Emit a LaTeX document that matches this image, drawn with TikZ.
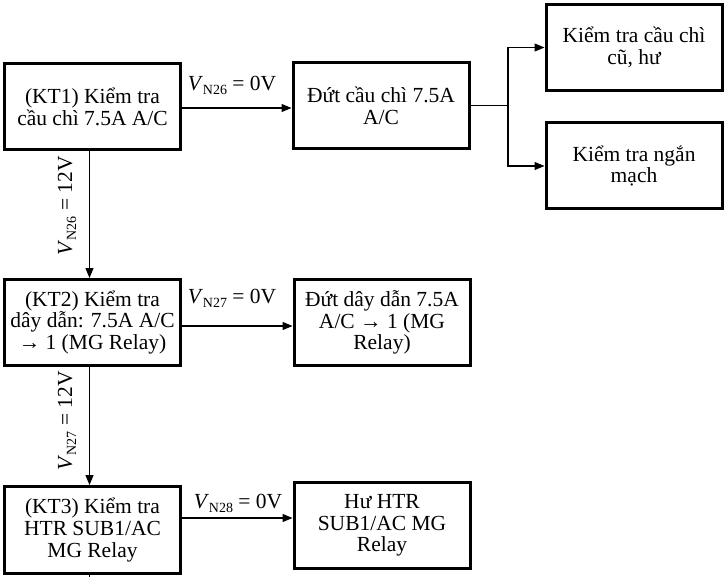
\documentclass[tikz,border=0pt]{standalone}
\usepackage{fontspec}
\setmainfont{Liberation Serif}
\usetikzlibrary{arrows.meta,calc}
\newcommand{\vsub}[1]{\textit{V}\raisebox{-4pt}{\fontsize{14}{14}\selectfont #1}}
\begin{document}
\begin{tikzpicture}[x=1pt,y=-1pt,
  box/.style={draw, line width=3pt, minimum width=176pt, minimum height=86pt, align=center, inner sep=2pt,
    font=\fontsize{21.5}{21.7}\selectfont},
  arr/.style={line width=1.1pt, -{Triangle[length=10pt,width=8pt]}},
  ln/.style={line width=1.1pt},
  lab/.style={font=\fontsize{21.5}{21.7}\selectfont, inner sep=0pt}]
\useasboundingbox (0,0) rectangle (727,577);
% boxes
\node[box] (kt1) at (92.5,107) {(KT1) Kiểm tra\\cầu chì 7.5A A/C};
\node[box] (d1) at (381,105.5) {Đứt cầu chì 7.5A\\A/C};
\node[box] (r1) at (634,47.5) {Kiểm tra cầu chì\\cũ, hư};
\node[box] (r2) at (634,166) {Kiểm tra ngắn\\mạch};
\node[box] (kt2) at (92.5,322.5) {(KT2) Kiểm tra\\dây dẫn: 7.5A A/C\\→ 1 (MG Relay)};
\node[box] (d2) at (382,322.5) {Đứt dây dẫn 7.5A\\A/C → 1 (MG\\Relay)};
\node[box, minimum height=87pt] (kt3) at (92.5,530) {(KT3) Kiểm tra\\HTR SUB1/AC\\MG Relay};
\node[box] (d3) at (382,525.5) {Hư HTR\\SUB1/AC MG\\Relay};
% horizontal connectors
\draw[arr] (kt1.east |- 0,108) -- (d1.west |- 0,108);
\draw[arr] (kt2.east |- 0,326) -- (d2.west |- 0,326);
\draw[arr] (kt3.east |- 0,518) -- (d3.west |- 0,518);
% branch
\coordinate (br) at (508,105.5);
\draw[ln] (d1.east) -- (br);
\draw[arr] (br) |- (r1.west);
\draw[arr] (br) |- (r2.west);
% vertical connectors
\draw[arr] ([xshift=-3pt]kt1.south) -- ([xshift=-3pt]kt2.north);
\draw[arr] ([xshift=-3pt]kt2.south) -- ([xshift=-3pt]kt3.north);
\coordinate (stub) at (89.5,577);
\draw[ln] ([xshift=-3pt]kt3.south) -- (stub);
% labels
\node[lab] (l1) at (232,85) {\vsub{N26} = 0V};
\node[lab] (l2) at (232,298) {\vsub{N27} = 0V};
\node[lab] (l3) at (238,503) {\vsub{N28} = 0V};
\node[lab, rotate=90] (l4) at (67,206) {\vsub{N26} = 12V};
\node[lab, rotate=90] (l5) at (67,421) {\vsub{N27} = 12V};
\end{tikzpicture}
\end{document}
